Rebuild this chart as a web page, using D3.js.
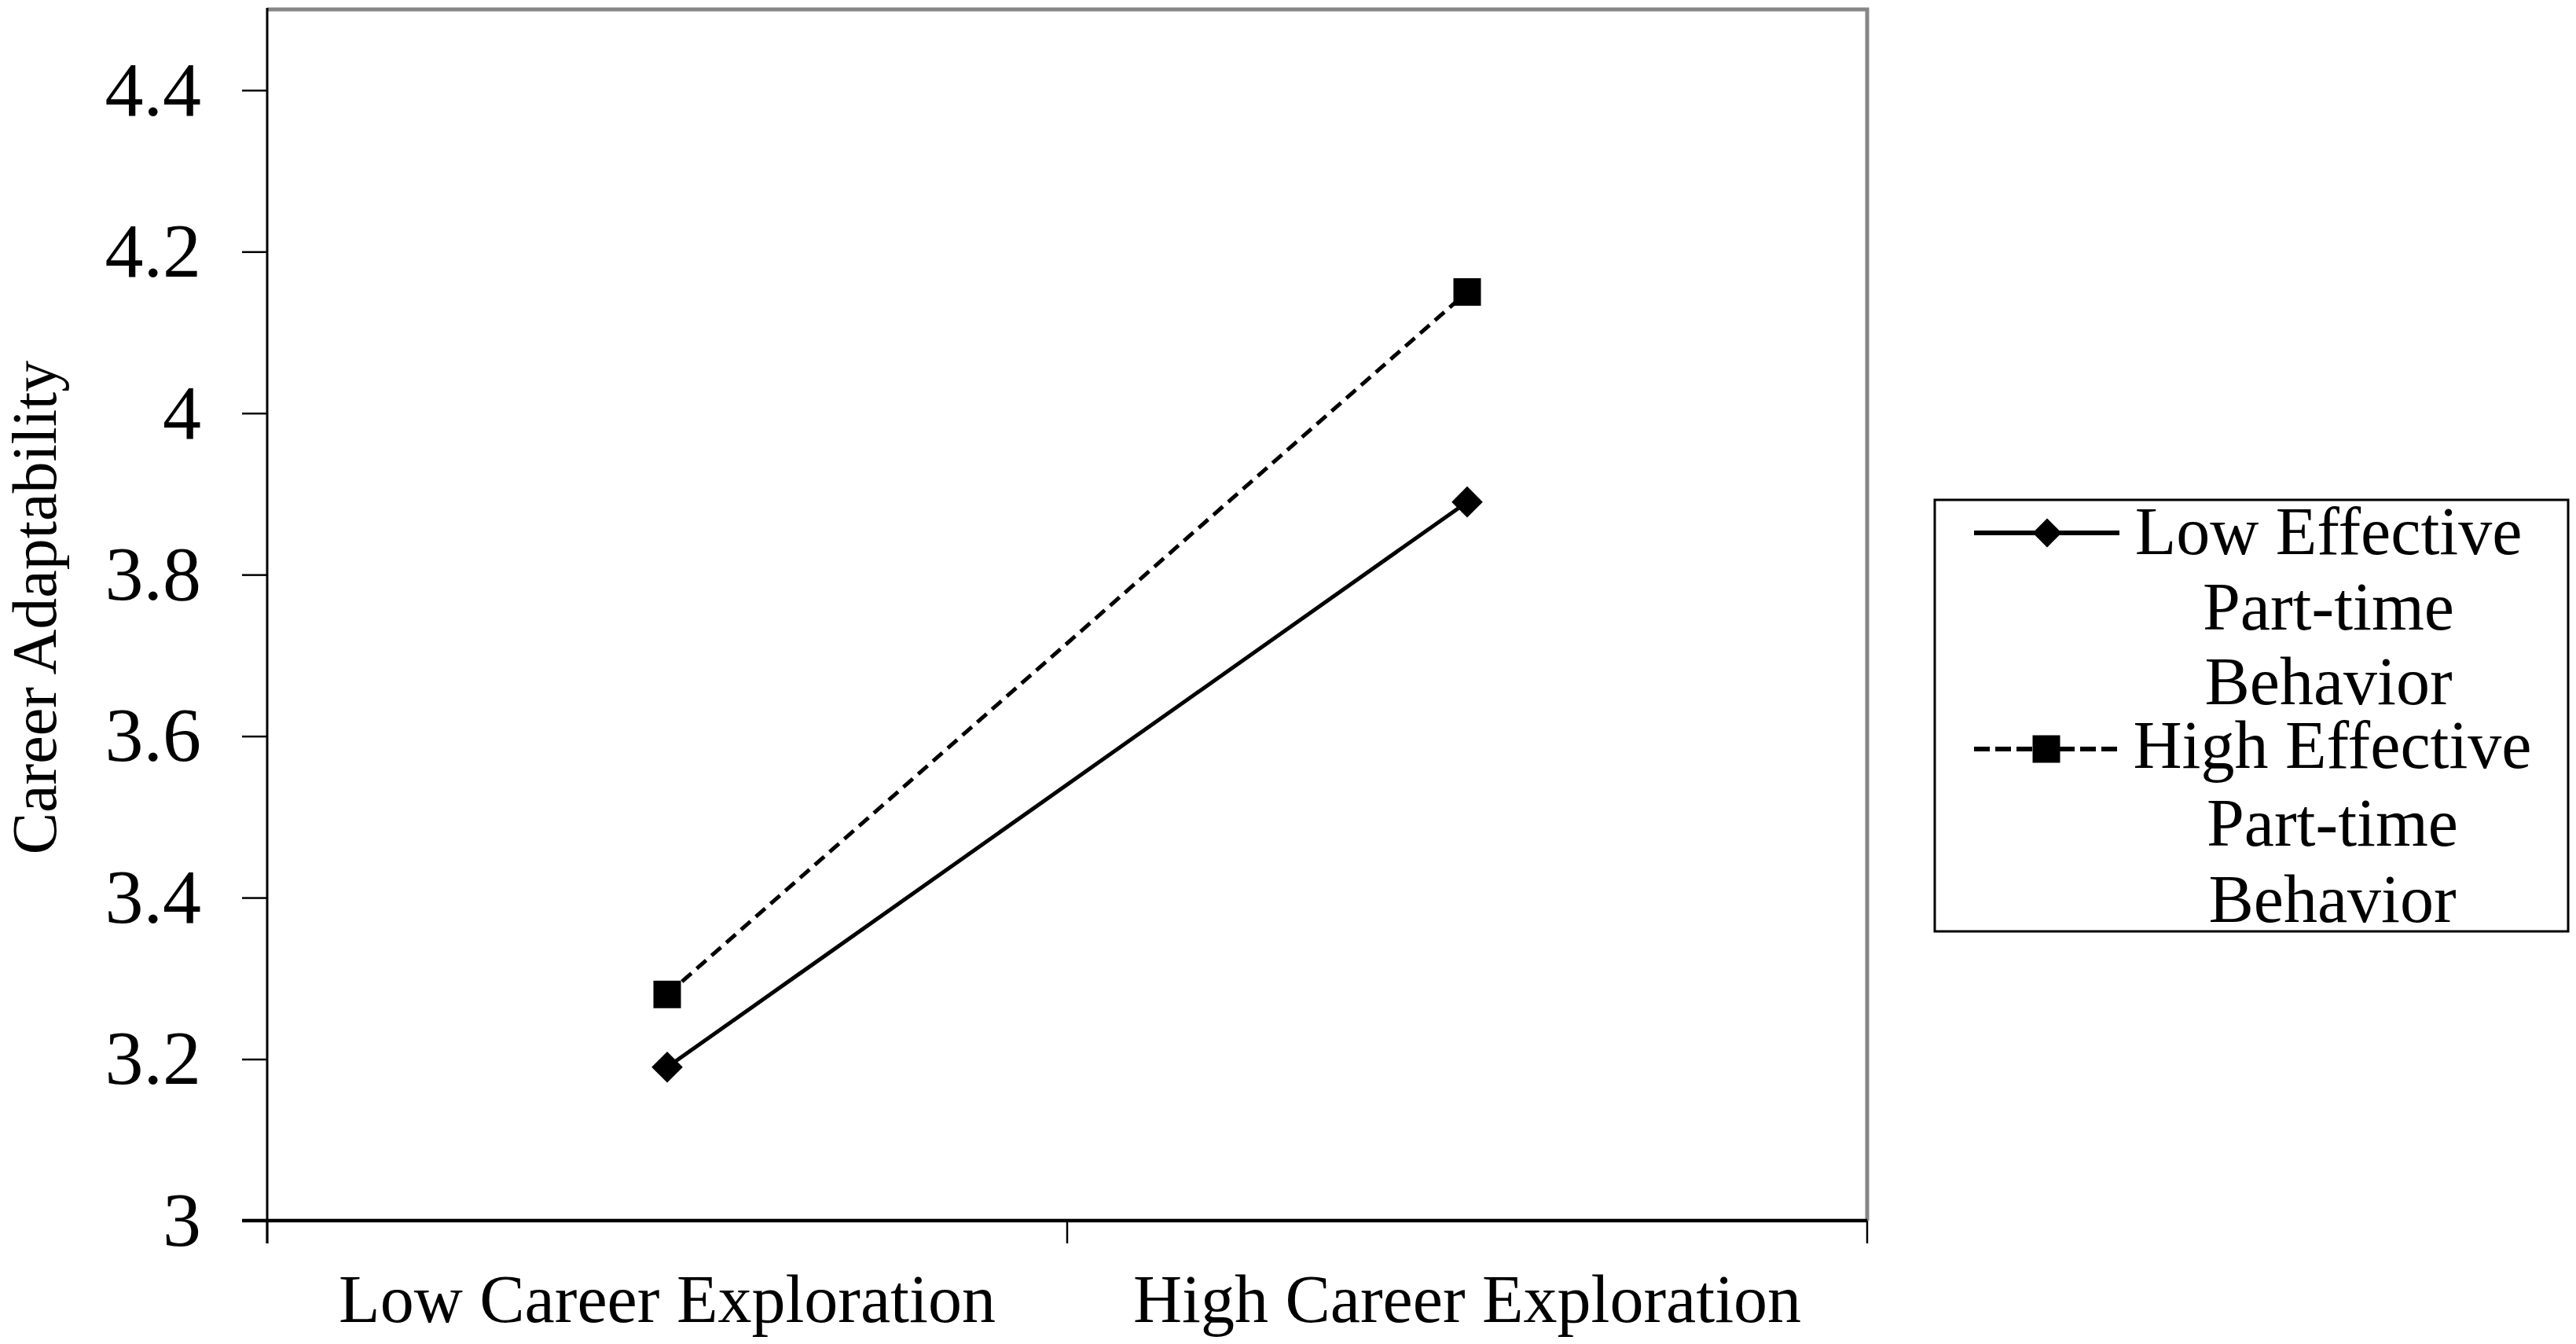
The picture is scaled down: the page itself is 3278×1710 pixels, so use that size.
<!DOCTYPE html>
<html>
<head>
<meta charset="utf-8">
<script src="https://cdn.jsdelivr.net/npm/d3@7/dist/d3.min.js"></script>
<style>
  html, body { margin: 0; padding: 0; background: #fff; }
  svg { display: block; }
  text { font-family: "Liberation Serif", "Times New Roman", serif; fill: #000; }
</style>
</head>
<body>
<svg id="chart" width="3278" height="1710"></svg>
<script>
// ---- data ----
const categories = ["Low Career Exploration", "High Career Exploration"];
const lowEffective = [3.19, 3.89];
const highEffective = [3.28, 4.15];
const seriesNames = [["Low Effective", "Part-time", "Behavior"], ["High Effective", "Part-time", "Behavior"]];
const yTicks = [3, 3.2, 3.4, 3.6, 3.8, 4, 4.2, 4.4];
const yTickLabels = ["3", "3.2", "3.4", "3.6", "3.8", "4", "4.2", "4.4"];
const yTitle = "Career Adaptability";

// ---- layout ----
const svg = d3.select("#chart");
const plotL = 340, plotR = 2376, plotT = 12, plotB = 1553;

const x = d3.scaleBand().domain(categories).range([plotL, plotR]).padding(0);
const y = d3.scaleLinear().domain([3, 4.5]).range([plotB, plotT]);

// plot frame (grey top/right)
svg.append("path")
  .attr("d", `M${plotL},${plotT}H${plotR}V${plotB}`)
  .attr("fill", "none").attr("stroke", "#868686").attr("stroke-width", 5);

// y axis
const yAxis = d3.axisLeft(y).tickValues(yTicks)
  .tickFormat((d, i) => yTickLabels[i]).tickSize(32).tickPadding(52);
const gy = svg.append("g").attr("transform", `translate(${plotL},0)`).call(yAxis);
gy.select(".domain").remove();
gy.selectAll(".tick line").attr("stroke", "#000").attr("stroke-width", 2.5);
gy.selectAll(".tick text").style("font-size", "98px").style("font-family", '"Liberation Serif", "Times New Roman", serif');
svg.append("line").attr("x1", plotL).attr("x2", plotL).attr("y1", plotT - 2).attr("y2", plotB + 29)
  .attr("stroke", "#000").attr("stroke-width", 3);

// x axis
const xAxis = d3.axisBottom(x).tickSize(0).tickPadding(68);
const gx = svg.append("g").attr("transform", `translate(0,${plotB})`).call(xAxis);
gx.select(".domain").remove();
gx.selectAll(".tick text").style("font-size", "86px").style("font-family", '"Liberation Serif", "Times New Roman", serif');
svg.append("line").attr("x1", plotL - 32).attr("x2", plotR).attr("y1", plotB).attr("y2", plotB)
  .attr("stroke", "#000").attr("stroke-width", 4.5);
const edges = categories.map(c => x(c)).concat([x(categories[categories.length - 1]) + x.bandwidth()]);
svg.selectAll(".xedge").data(edges).enter().append("line")
  .attr("x1", d => d).attr("x2", d => d).attr("y1", plotB).attr("y2", plotB + 29)
  .attr("stroke", "#000").attr("stroke-width", 2.5);

// y title
svg.append("text")
  .attr("transform", `translate(71,773) rotate(-90)`)
  .attr("text-anchor", "middle")
  .style("font-size", "80px")
  .text(yTitle);

// series
const cx = c => x(c) + x.bandwidth() / 2;
const lineGen = d3.line().x(d => cx(d.c)).y(d => y(d.v));
const lowData = categories.map((c, i) => ({ c, v: lowEffective[i] }));
const highData = categories.map((c, i) => ({ c, v: highEffective[i] }));

svg.append("path").datum(highData).attr("d", lineGen)
  .attr("fill", "none").attr("stroke", "#000").attr("stroke-width", 5)
  .attr("stroke-dasharray", "16,9");
svg.append("path").datum(lowData).attr("d", lineGen)
  .attr("fill", "none").attr("stroke", "#000").attr("stroke-width", 5);

const diamond = d3.symbol().type(d3.symbolSquare).size(28 * 28);
svg.selectAll(".dia").data(lowData).enter().append("path")
  .attr("d", diamond)
  .attr("transform", d => `translate(${cx(d.c)},${y(d.v)}) rotate(45)`)
  .attr("fill", "#000");
const square = d3.symbol().type(d3.symbolSquare).size(35 * 35);
svg.selectAll(".sq").data(highData).enter().append("path")
  .attr("d", square)
  .attr("transform", d => `translate(${cx(d.c)},${y(d.v)})`)
  .attr("fill", "#000");

// legend
const lg = svg.append("g");
lg.append("rect").attr("x", 2462).attr("y", 636).attr("width", 806).attr("height", 549)
  .attr("fill", "#fff").attr("stroke", "#000").attr("stroke-width", 3);

const legendRows = [
  { y: 678, dash: null, width: 6, sym: "diamond", baselines: [705, 801, 896], cx: 2963 },
  { y: 953, dash: "20,7", width: 6, sym: "square", baselines: [977, 1076, 1173], cx: 2968 }
];
legendRows.forEach((r, i) => {
  lg.append("line").attr("x1", 2512).attr("x2", 2697).attr("y1", r.y).attr("y2", r.y)
    .attr("stroke", "#000").attr("stroke-width", r.width)
    .attr("stroke-dasharray", r.dash);
  if (r.sym === "diamond") {
    lg.append("path").attr("d", d3.symbol().type(d3.symbolSquare).size(26 * 26))
      .attr("transform", `translate(2605,${r.y}) rotate(45)`).attr("fill", "#000");
  } else {
    lg.append("path").attr("d", d3.symbol().type(d3.symbolSquare).size(35 * 35))
      .attr("transform", `translate(2604,${r.y})`).attr("fill", "#000");
  }
  seriesNames[i].forEach((t, j) => {
    lg.append("text").attr("x", r.cx).attr("y", r.baselines[j])
      .attr("text-anchor", "middle").style("font-size", "86px").text(t);
  });
});
</script>
</body>
</html>
